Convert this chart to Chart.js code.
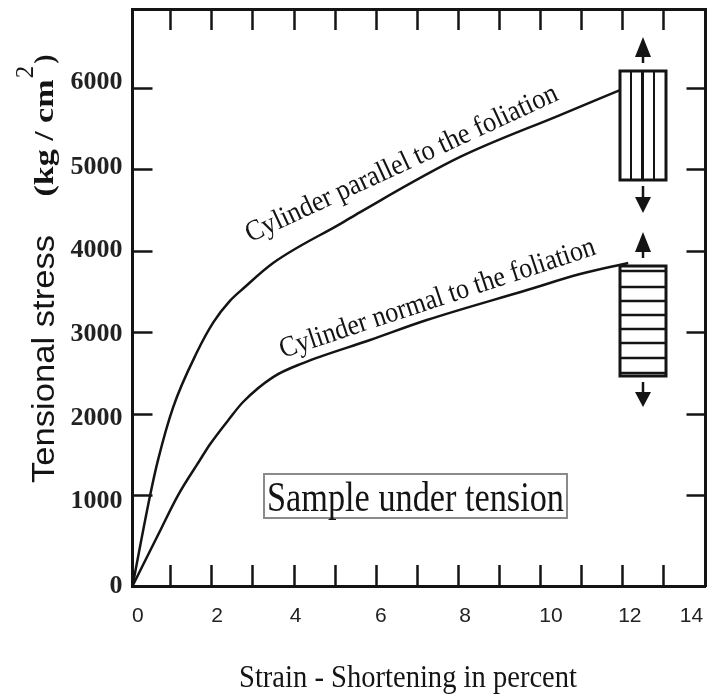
<!DOCTYPE html>
<html>
<head>
<meta charset="utf-8">
<style>
    html, body { margin: 0; padding: 0; background: #fff; }
    canvas { display: block; }
</style>
<script src="https://cdn.jsdelivr.net/npm/chart.js@4"></script>
</head>
<body>
<canvas id="graphique" width="708" height="697"></canvas>
<script>
// courbes (le cadre du scan descend un peu sous le vrai zéro : y = -110)
const strainParallel = [0.07, 0.50, 0.69, 1.06, 1.64, 2.04, 2.44, 2.77, 3.49, 5.19, 5.61, 8.04, 10.47, 11.93];
const stressParallel = [-110, 1007, 1436, 2087, 2762, 3130, 3390, 3545, 3855, 4355, 4481, 5157, 5672, 5979];
const strainNormal = [0.07, 0.69, 1.18, 1.71, 1.96, 2.44, 2.76, 3.49, 4.22, 5.85, 7.23, 9.67, 10.96, 12.13];
const stressNormal = [-110, 516, 1007, 1436, 1633, 1952, 2149, 2455, 2627, 2910, 3155, 3524, 3720, 3855];

// graduations
const xTickValues = [1, 2, 3, 4, 5, 6, 7, 8, 9, 10, 11, 12, 13];
const yTickValues = [1000, 2000, 3000, 4000, 5000, 6000];

// les libellés ne tombent pas exactement sur les graduations dans l'original
const xTickLabels = ["0", "2", "4", "6", "8", "10", "12", "14"];
const xLabelValues = [0.20, 2.13, 4.04, 6.11, 8.16, 10.25, 12.17, 13.67];
const yTickLabels = ["0", "1000", "2000", "3000", "4000", "5000", "6000"];
const yLabelValues = [-110, 924, 1952, 2983, 4015, 5034, 6077];

const INK = "#141414";
const X_RANGE = { min: 0.07, max: 14.01 };
const Y_RANGE = { min: -110, max: 6974 };

function setTicks(values) {
    return (scale) => { scale.ticks = values.map(value => ({ value })); };
}

// taille imposée, sans la marge automatique que Chart.js ajoute pour les libellés
function fixerTaille(axis, size) {
    return (scale) => {
        if (axis === "x") scale.height = size; else scale.width = size;
        scale.paddingLeft = scale.paddingRight = scale.paddingTop = scale.paddingBottom = 0;
    };
}

// axe qui ne porte que les traits de graduation, tournés vers l'intérieur
function axeTraits(axis, position, values, size, tickLength) {
    return {
        type: "linear", axis, position,
        ...(axis === "x" ? X_RANGE : Y_RANGE),
        afterBuildTicks: setTicks(values),
        afterFit: fixerTaille(axis, size),
        border: { display: true, color: INK, width: 3 },
        grid: { display: true, drawOnChartArea: false, drawTicks: true, tickLength, tickColor: INK, tickWidth: 2.5 },
        ticks: { display: false }
    };
}

// axe qui ne porte que les libellés
function axeLibelles(axis, position, values, labels, size, font, padding) {
    return {
        type: "linear", axis, position, weight: 1,
        ...(axis === "x" ? X_RANGE : Y_RANGE),
        afterBuildTicks: setTicks(values),
        afterFit: fixerTaille(axis, size),
        border: { display: false },
        grid: { display: false, drawTicks: false },
        ticks: {
            autoSkip: false, maxRotation: 0, padding, font, color: "#222",
            callback: (value, i) => labels[i]
        }
    };
}

// texte ajusté à une largeur donnée (les textes du scan sont étroits)
function texte(ctx, str, x, y, angle, font, largeur) {
    ctx.save();
    ctx.translate(x, y);
    ctx.rotate(angle * Math.PI / 180);
    ctx.font = font;
    ctx.fillStyle = INK;
    ctx.textAlign = "center";
    ctx.textBaseline = "alphabetic";
    const w = ctx.measureText(str).width;
    if (largeur) ctx.scale(largeur / w, 1);
    ctx.fillText(str, 0, 0);
    ctx.restore();
}

function trait(ctx, x1, y1, x2, y2, width) {
    ctx.lineWidth = width;
    ctx.beginPath();
    ctx.moveTo(x1, y1);
    ctx.lineTo(x2, y2);
    ctx.stroke();
}

// flèche : pointe, base de la tête, bout de la tige
function fleche(ctx, x, pointe, base, bout) {
    trait(ctx, x, base, x, bout, 2.5);
    ctx.beginPath();
    ctx.moveTo(x, pointe);
    ctx.lineTo(x - 8, base);
    ctx.lineTo(x + 8, base);
    ctx.closePath();
    ctx.fill();
}

const decorations = {
    id: "decorations",
    afterDraw(chart) {
        const ctx = chart.ctx;
        const serif = '"Liberation Serif"';
        ctx.save();
        ctx.strokeStyle = INK;
        ctx.fillStyle = INK;

        // éprouvette à foliation verticale
        ctx.lineWidth = 3;
        ctx.strokeRect(620, 71, 46, 109);
        [631, 654].forEach(x => trait(ctx, x, 71, x, 180, 2));
        trait(ctx, 642.5, 71, 642.5, 180, 3);
        fleche(ctx, 643, 37, 57, 63);
        fleche(ctx, 643, 213, 197, 186);

        // éprouvette à foliation horizontale
        ctx.lineWidth = 3;
        ctx.strokeRect(620, 266, 46, 110);
        [271, 287, 301, 315, 329, 343, 358, 373].forEach(y => trait(ctx, 620, y, 666, y, 2.5));
        fleche(ctx, 643, 232, 252, 258);
        fleche(ctx, 643, 407, 392, 382);

        // encadré
        ctx.strokeStyle = "#8a8a8a";
        ctx.lineWidth = 2;
        ctx.strokeRect(264, 474, 303, 44);
        ctx.restore();

        texte(ctx, "Sample under tension", 415.5, 510.5, 0, `42px ${serif}`, 297);
        texte(ctx, "Cylinder parallel to the foliation", 405, 171, -24.8, `29px ${serif}`, 341);
        texte(ctx, "Cylinder normal to the foliation", 440, 306, -18.3, `29px ${serif}`, 331);
        texte(ctx, "Strain - Shortening in percent", 408, 686.5, 0, `32px ${serif}`, 338);
        texte(ctx, "Tensional stress", 54, 359, -90, '32px "Liberation Sans"', 248);
        texte(ctx, "(kg / cm", 53, 138, -90, `bold 27px ${serif}`, 117);
        texte(ctx, "2", 33, 72, -90, `25px ${serif}`);
        texte(ctx, ")", 53, 59, -90, `bold 27px ${serif}`);
    }
};

new Chart(document.querySelector("#graphique"), {
    type: "line",
    plugins: [decorations],
    data: {
        datasets: [
            {
                label: "Cylinder parallel to the foliation",
                data: strainParallel.map((x, i) => ({ x, y: stressParallel[i] }))
            },
            {
                label: "Cylinder normal to the foliation",
                data: strainNormal.map((x, i) => ({ x, y: stressNormal[i] }))
            }
        ]
    },
    options: {
        responsive: false,
        animation: false,
        layout: { padding: 0, autoPadding: false },
        elements: {
            point: { radius: 0 },
            line: { borderColor: INK, borderWidth: 2.5, cubicInterpolationMode: "monotone" }
        },
        plugins: { legend: { display: false }, tooltip: { enabled: false }, title: { display: false } },
        scales: {
            x: axeTraits("x", "bottom", xTickValues, 0, -21),
            xTop: axeTraits("x", "top", xTickValues, 9, -21),
            xLabels: axeLibelles("x", "bottom", xLabelValues, xTickLabels, 111, { family: "Liberation Sans", size: 21 }, 18),
            y: axeTraits("y", "left", yTickValues, 0, -20),
            yRight: axeTraits("y", "right", yTickValues, 2.5, -19),
            yLabels: axeLibelles("y", "left", yLabelValues, yTickLabels, 132.5, { family: "Liberation Serif", size: 26, weight: "bold" }, 10)
        }
    }
});
</script>
</body>
</html>
